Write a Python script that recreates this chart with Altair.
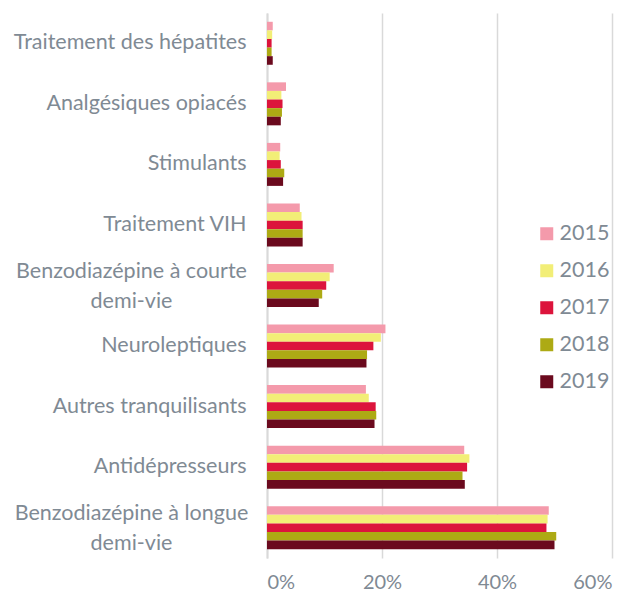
import altair as alt
import pandas as pd

categories = [
    "Traitement des hépatites",
    "Analgésiques opiacés",
    "Stimulants",
    "Traitement VIH",
    "Benzodiazépine à courte\ndemi-vie",
    "Neuroleptiques",
    "Autres tranquilisants",
    "Antidépresseurs",
    "Benzodiazépine à longue\ndemi-vie",
]
years = ["2015", "2016", "2017", "2018", "2019"]

# values in percent, one list per year, in category order
v2015 = [1.0, 3.3, 2.3, 5.7, 11.6, 20.6, 17.2, 34.3, 49.0]
v2016 = [0.9, 2.5, 2.2, 6.0, 10.9, 19.8, 17.7, 35.2, 48.8]
v2017 = [0.8, 2.7, 2.4, 6.2, 10.3, 18.5, 18.9, 34.8, 48.6]
v2018 = [0.8, 2.6, 3.0, 6.2, 9.6, 17.4, 19.0, 34.0, 50.3]
v2019 = [1.0, 2.4, 2.8, 6.2, 9.0, 17.3, 18.7, 34.4, 50.0]

colors = ["#F49AAB", "#F2EE77", "#DC143C", "#ADAA14", "#6B0A1E"]

series = [v2015, v2016, v2017, v2018, v2019]
rows = []
for yr, vals in zip(years, series):
    for cat, v in zip(categories, vals):
        rows.append({"cat": cat, "year": yr, "value": v / 100})
df = pd.DataFrame(rows)

FONT = "Lato"
TXT = "#7F8A94"
FS = 21.5
MULTI = "indexof(datum.value, '\\n') >= 0"

chart = alt.Chart(df).mark_bar().encode(
    y=alt.Y(
        "cat:N",
        sort=categories,
        title=None,
        scale=alt.Scale(paddingInner=0.29, paddingOuter=0.145),
        axis=alt.Axis(
            labelExpr="split(datum.label, '\\n')",
            labelAlign={"condition": {"test": MULTI, "value": "center"}, "value": "right"},
            labelPadding={"condition": {"test": MULTI, "value": 136}, "value": 21},
            labelOffset={"condition": {"test": MULTI, "value": -14}, "value": 0},
            labelFont=FONT,
            labelFontSize=FS,
            labelColor=TXT,
            labelLineHeight=30,
            labelLimit=400,
            labelOverlap=False,
            ticks=False,
            domainColor="#D9D9D9",
            domainWidth=2,
            grid=False,
        ),
    ),
    yOffset=alt.YOffset("year:N", sort=years, scale=alt.Scale(paddingInner=0, paddingOuter=0)),
    x=alt.X(
        "value:Q",
        title=None,
        scale=alt.Scale(domain=[0, 0.6], nice=False),
        axis=alt.Axis(
            values=[0, 0.2, 0.4, 0.6],
            format=".0%",
            labelFont=FONT,
            labelFontSize=20,
            labelColor=TXT,
            labelPadding=14,
            ticks=False,
            domain=False,
            grid=True,
            gridColor="#D9D9D9",
            gridWidth=1.5,
        ),
    ),
    color=alt.Color(
        "year:N",
        sort=years,
        scale=alt.Scale(domain=years, range=colors),
        legend=alt.Legend(
            title=None,
            orient="none",
            legendX=269,
            legendY=210,
            symbolType="square",
            symbolSize=169,
            symbolStrokeWidth=0,
            labelFont=FONT,
            labelFontSize=FS,
            labelColor=TXT,
            rowPadding=14,
            labelOffset=2,
        ),
    ),
).properties(
    width=345,
    height=545,
    padding={"left": 259, "top": 5, "right": 16, "bottom": 36},
    autosize=alt.AutoSizeParams(type="none"),
).configure_view(stroke=None)

chart.save("out.html", embed_options={"renderer": "svg", "actions": False})
